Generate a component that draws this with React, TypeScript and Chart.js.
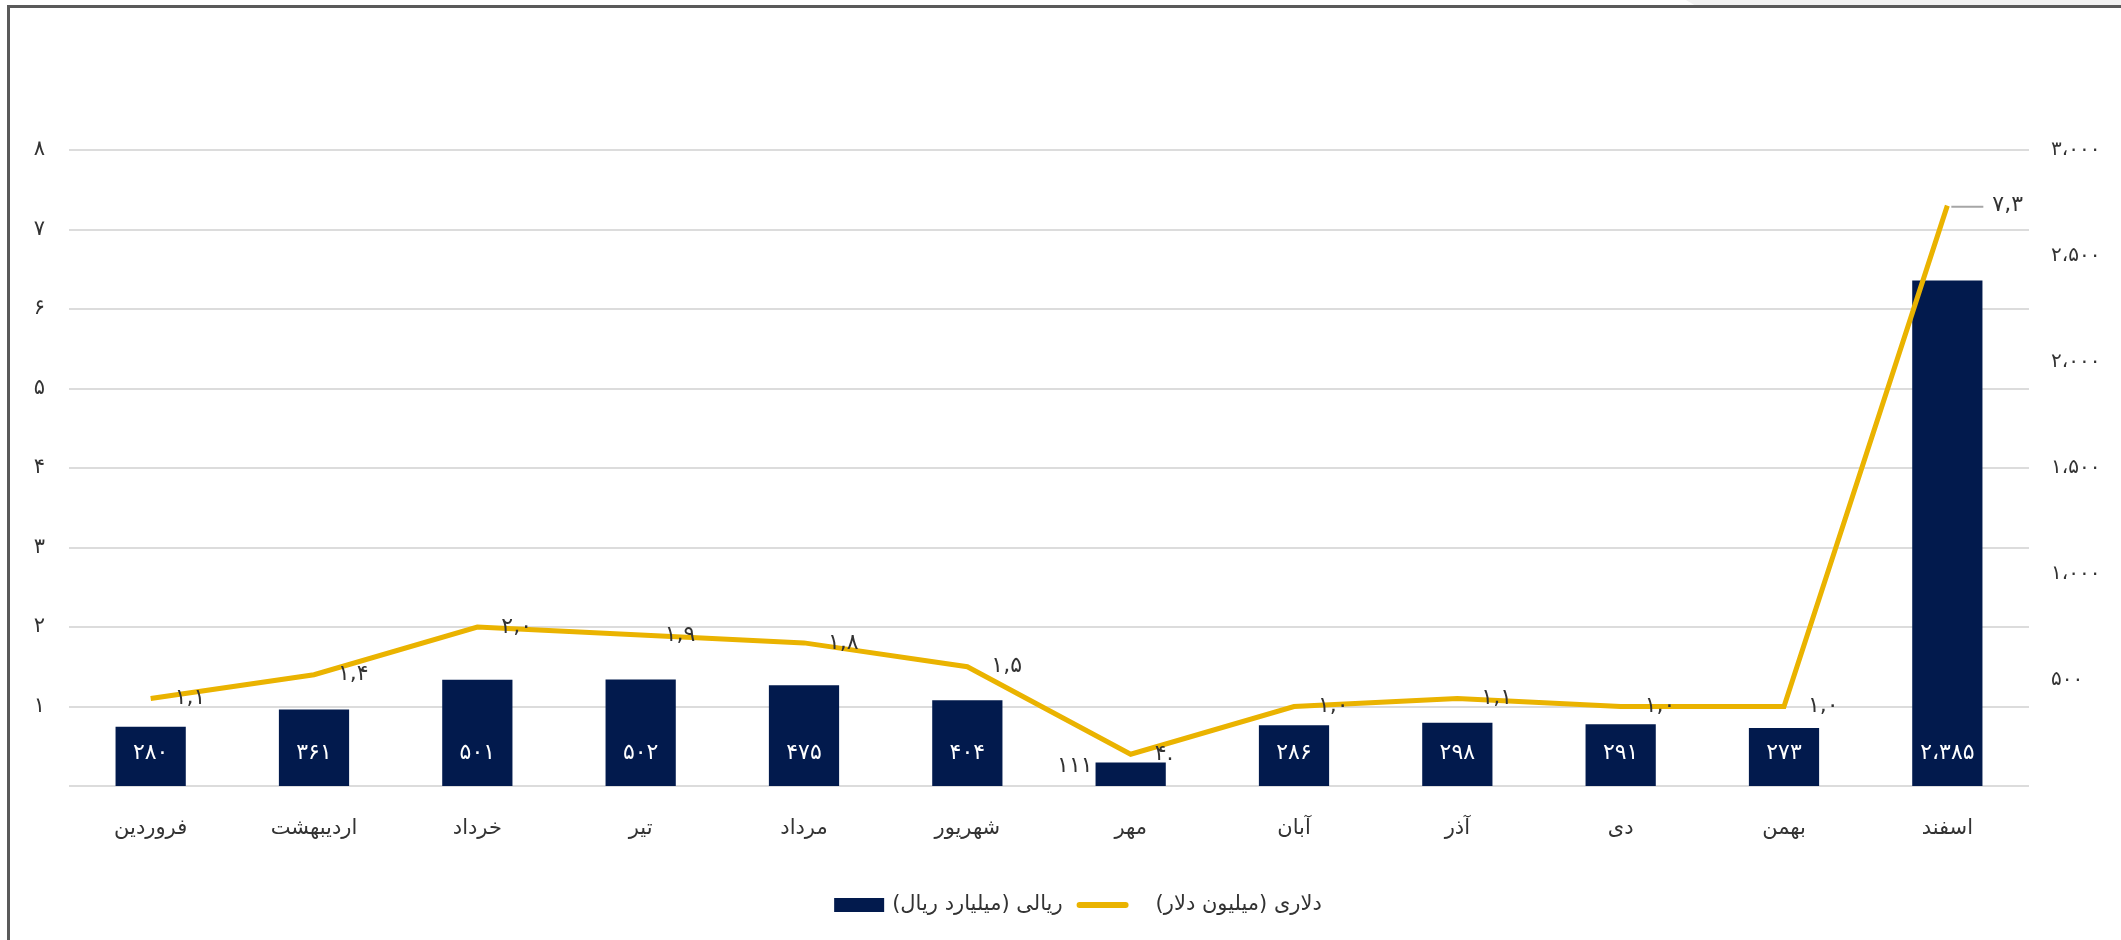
import React, { useEffect, useRef } from 'react';
import { Chart, registerables } from 'chart.js';

Chart.register(...registerables);

// ---- data ----
const months = ['فروردین', 'اردیبهشت', 'خرداد', 'تیر', 'مرداد', 'شهریور', 'مهر', 'آبان', 'آذر', 'دی', 'بهمن', 'اسفند'];
const rialValues = [280, 361, 501, 502, 475, 404, 111, 286, 298, 291, 273, 2385];
const dollarValues = [1.1, 1.4, 2.0, 1.9, 1.8, 1.5, 0.4, 1.0, 1.1, 1.0, 1.0, 7.3];
const rialLabel = 'ریالی (میلیارد ریال)';
const dollarLabel = 'دلاری (میلیون دلار)';
const leftAxisMax = 8;
const leftAxisStep = 1;
const rightAxisMax = 3000;
const rightAxisStep = 500;

// ---- styles ----
const FONT = '"DejaVu Sans", sans-serif';
const NAVY = '#021a4d';
const GOLD = '#eab300';
const TEXT = '#333333';

const faDigits = '۰۱۲۳۴۵۶۷۸۹';
const toFa = (s: string) => s.replace(/\d/g, (d) => faDigits[+d]);
const fmtInt = (n: number) => toFa(Math.round(n).toString().replace(/\B(?=(\d{3})+(?!\d))/g, '،'));
const fmtDec = (n: number) => {
  if (n < 1) {
    // shown as ".4" written right-to-left
    return toFa(n.toFixed(1).slice(2)) + '.';
  }
  return toFa(n.toFixed(1).replace('.', ','));
};

const labelPlugin = {
  id: 'valueLabels',
  afterDatasetsDraw(chart: any) {
    const ctx = chart.ctx as CanvasRenderingContext2D;
    const barMeta = chart.getDatasetMeta(0);
    const lineMeta = chart.getDatasetMeta(1);
    ctx.save();
    ctx.font = `22px ${FONT}`;
    ctx.textBaseline = 'alphabetic';
    barMeta.data.forEach((el: any, i: number) => {
      const { x, y, base, width } = el.getProps(['x', 'y', 'base', 'width'], true);
      const txt = fmtInt(rialValues[i]);
      if (base - y > 34) {
        ctx.fillStyle = '#ffffff';
        ctx.textAlign = 'center';
        ctx.fillText(txt, x, base - 27);
      } else {
        ctx.fillStyle = TEXT;
        ctx.textAlign = 'right';
        ctx.fillText(txt, x - width / 2 - 3, base - 14);
      }
    });
    ctx.textBaseline = 'middle';
    ctx.textAlign = 'left';
    const n = lineMeta.data.length;
    lineMeta.data.forEach((pt: any, i: number) => {
      const { x, y } = pt.getProps(['x', 'y'], true);
      const txt = fmtDec(dollarValues[i]);
      ctx.fillStyle = TEXT;
      if (i === n - 1) {
        ctx.strokeStyle = '#a6a6a6';
        ctx.lineWidth = 2;
        ctx.beginPath();
        ctx.moveTo(x + 4, y + 1);
        ctx.lineTo(x + 36, y + 1);
        ctx.stroke();
        ctx.fillText(txt, x + 45, y);
      } else {
        ctx.fillText(txt, x + 24, y);
      }
    });
    ctx.restore();
  },
};

const legendPlugin = {
  id: 'customLegend',
  afterDraw(chart: any) {
    const ctx = chart.ctx as CanvasRenderingContext2D;
    ctx.save();
    ctx.font = `21px ${FONT}`;
    ctx.direction = 'rtl';
    const w1 = ctx.measureText(rialLabel).width;
    const w2 = ctx.measureText(dollarLabel).width;
    const boxW = 50;
    const lineW = 52;
    const total = boxW + 8 + w1 + 14 + lineW + 27 + w2;
    const cy = 905;
    let x = 1078 - total / 2;
    ctx.fillStyle = NAVY;
    ctx.fillRect(x, cy - 7, boxW, 14);
    x += boxW + 8;
    ctx.fillStyle = TEXT;
    ctx.textAlign = 'left';
    ctx.textBaseline = 'middle';
    ctx.fillText(rialLabel, x, cy);
    x += w1 + 14;
    ctx.strokeStyle = GOLD;
    ctx.lineWidth = 6;
    ctx.lineCap = 'round';
    ctx.beginPath();
    ctx.moveTo(x + 3, cy);
    ctx.lineTo(x + lineW - 3, cy);
    ctx.stroke();
    x += lineW + 27;
    ctx.fillText(dollarLabel, x, cy);
    ctx.restore();
  },
};

export default function App() {
  const canvasRef = useRef<HTMLCanvasElement | null>(null);

  useEffect(() => {
    const canvas = canvasRef.current;
    if (!canvas) return;
    const chart = new Chart(canvas, {
      type: 'bar',
      data: {
        labels: months,
        datasets: [
          {
            type: 'bar',
            label: rialLabel,
            data: rialValues,
            backgroundColor: NAVY,
            yAxisID: 'y1',
            barPercentage: 0.43,
            categoryPercentage: 1,
            order: 2,
          },
          {
            type: 'line',
            label: dollarLabel,
            data: dollarValues,
            borderColor: GOLD,
            backgroundColor: GOLD,
            borderWidth: 5,
            pointRadius: 0,
            tension: 0,
            yAxisID: 'y',
            order: 1,
          },
        ],
      } as any,
      options: {
        animation: false,
        responsive: false,
        devicePixelRatio: 1,
        layout: { padding: { top: 150, left: 0, right: 0, bottom: 0 } },
        plugins: {
          legend: { display: false },
          tooltip: { enabled: false },
        },
        scales: {
          x: {
            grid: { display: false },
            border: { display: false },
            ticks: { font: { family: FONT, size: 21 }, color: TEXT, padding: 22, maxRotation: 0 },
            afterFit: (s: any) => {
              s.height = 154;
            },
          },
          y: {
            position: 'left',
            min: 0,
            max: leftAxisMax,
            ticks: {
              stepSize: leftAxisStep,
              font: { family: FONT, size: 21 },
              color: TEXT,
              padding: 24,
              callback: (v: any) => (v === 0 ? '' : toFa(String(v))),
            },
            grid: { color: '#dcdcdc', lineWidth: 2, drawTicks: false },
            border: { display: false },
            afterFit: (s: any) => {
              s.width = 69;
            },
          },
          y1: {
            position: 'right',
            min: 0,
            max: rightAxisMax,
            ticks: {
              stepSize: rightAxisStep,
              font: { family: FONT, size: 20 },
              color: TEXT,
              padding: 22,
              callback: (v: any) => (v === 0 ? '' : fmtInt(v)),
            },
            grid: { display: false, drawTicks: false },
            border: { display: false },
            afterFit: (s: any) => {
              s.width = 92;
            },
          },
        },
      } as any,
      plugins: [labelPlugin, legendPlugin],
    });
    return () => chart.destroy();
  }, []);

  return (
    <div style={{ position: 'fixed', left: 0, top: 0, width: 2121, height: 940, background: '#ffffff', overflow: 'hidden' }}>
      <div
        style={{
          position: 'absolute',
          left: 1686,
          top: 0,
          width: 435,
          height: 6,
          background: '#f2f2f2',
          clipPath: 'polygon(0 0, 100% 0, 100% 100%, 10px 100%)',
        }}
      />
      <canvas ref={canvasRef} width={2121} height={940} style={{ position: 'absolute', left: 0, top: 0, width: 2121, height: 940 }} />
      <div style={{ position: 'absolute', left: 7, top: 5, right: 0, height: 3, background: '#5a5a5a' }} />
      <div style={{ position: 'absolute', left: 7, top: 5, width: 3, bottom: 0, background: '#5a5a5a' }} />
    </div>
  );
}
